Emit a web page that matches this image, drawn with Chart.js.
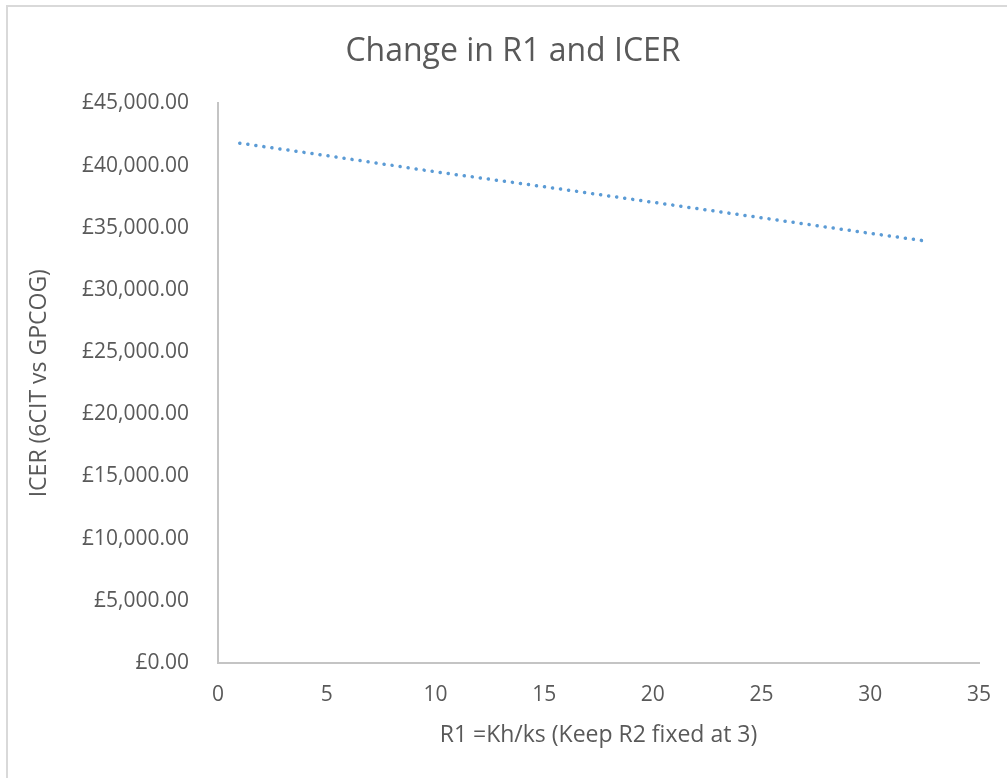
<!DOCTYPE html>
<html>
<head>
<meta charset="utf-8">
<script src="https://cdn.jsdelivr.net/npm/chart.js@4"></script>
<style>
  html, body { margin: 0; padding: 0; background: #fff; }
  #wrap { width: 1007px; height: 778px; position: relative; }
</style>
</head>
<body>
<div id="wrap"><canvas id="icer"></canvas></div>
<script>
// R1 values and the ICER
const r1Values = [1, 5, 10, 15, 20, 25, 30, 32.7];
const icerValues = [41800, 40800, 39500, 38300, 37050, 35800, 34550, 33900];
const yTicks = { min: 0, max: 45000, step: 5000 };
const xTicks = { min: 0, max: 35, step: 5 };

const textColor = "#595959";
const fontFamily = "'Open Sans', 'Noto Sans', sans-serif";

// light frame on the left and top edges, like the exported chart
const frame = {
    id: "frame",
    beforeDraw(chart) {
        const ctx = chart.ctx;
        ctx.save();
        ctx.fillStyle = "#fff";
        ctx.fillRect(0, 0, chart.width, chart.height);
        ctx.strokeStyle = "#d9d9d9";
        ctx.lineWidth = 2;
        ctx.beginPath();
        ctx.moveTo(7, chart.height);
        ctx.lineTo(7, 6);
        ctx.lineTo(chart.width, 6);
        ctx.stroke();
        ctx.restore();
    },
};

new Chart(document.getElementById("icer"), {
    type: "line",
    data: {
        datasets: [
            {
                label: "ICER",
                data: r1Values.map((r, i) => ({ x: r, y: icerValues[i] })),
                borderColor: "#5b9bd5",
                borderWidth: 3.5,
                borderDash: [0.1, 8],
                borderCapStyle: "round",
                pointRadius: 0,
                fill: false,
                tension: 0,
            },
        ],
    },
    options: {
        responsive: true,
        maintainAspectRatio: false,
        animation: false,
        layout: { padding: { left: 20, right: 1, top: 0, bottom: 0 } },
        plugins: {
            legend: { display: false },
            tooltip: { enabled: false },
            title: {
                display: true,
                text: "Change in R1 and ICER",
                color: textColor,
                font: { family: fontFamily, size: 32, weight: "normal" },
                padding: { top: 33, bottom: 32 },
            },
        },
        scales: {
            x: {
                type: "linear",
                min: xTicks.min,
                max: xTicks.max,
                afterFit: (scale) => {
                    scale.height = 115;
                    scale.paddingLeft = 0;
                    scale.paddingRight = 0;
                },
                ticks: {
                    stepSize: xTicks.step,
                    color: textColor,
                    font: { family: fontFamily, size: 21 },
                    padding: 19,
                    maxRotation: 0,
                },
                grid: { drawOnChartArea: false, drawTicks: false },
                border: { display: true, color: "#c4c4c4", width: 2 },
                title: {
                    display: true,
                    text: "R1 =Kh/ks (Keep R2 fixed at 3)",
                    color: textColor,
                    font: { family: fontFamily, size: 23 },
                    padding: { top: 0, bottom: 29 },
                },
            },
            y: {
                min: yTicks.min,
                max: yTicks.max,
                afterFit: (scale) => { scale.width = 198; },
                ticks: {
                    stepSize: yTicks.step,
                    color: textColor,
                    font: { family: fontFamily, size: 21 },
                    padding: 29,
                    callback: (v) =>
                        "£" + Number(v).toLocaleString("en-GB", { minimumFractionDigits: 2, maximumFractionDigits: 2 }),
                },
                grid: { drawOnChartArea: false, drawTicks: false },
                border: { display: true, color: "#c4c4c4", width: 2 },
                title: {
                    display: true,
                    text: "ICER (6CIT vs GPCOG)",
                    color: textColor,
                    font: { family: fontFamily, size: 23 },
                    padding: { top: 6, bottom: 0 },
                },
            },
            // empty right-hand spacer so the plot ends where the original does
            spacer: {
                type: "linear",
                position: "right",
                afterFit: (scale) => { scale.width = 27; },
                ticks: { display: false },
                grid: { display: false },
                border: { display: false },
            },
        },
    },
    plugins: [frame],
});
</script>
</body>
</html>
